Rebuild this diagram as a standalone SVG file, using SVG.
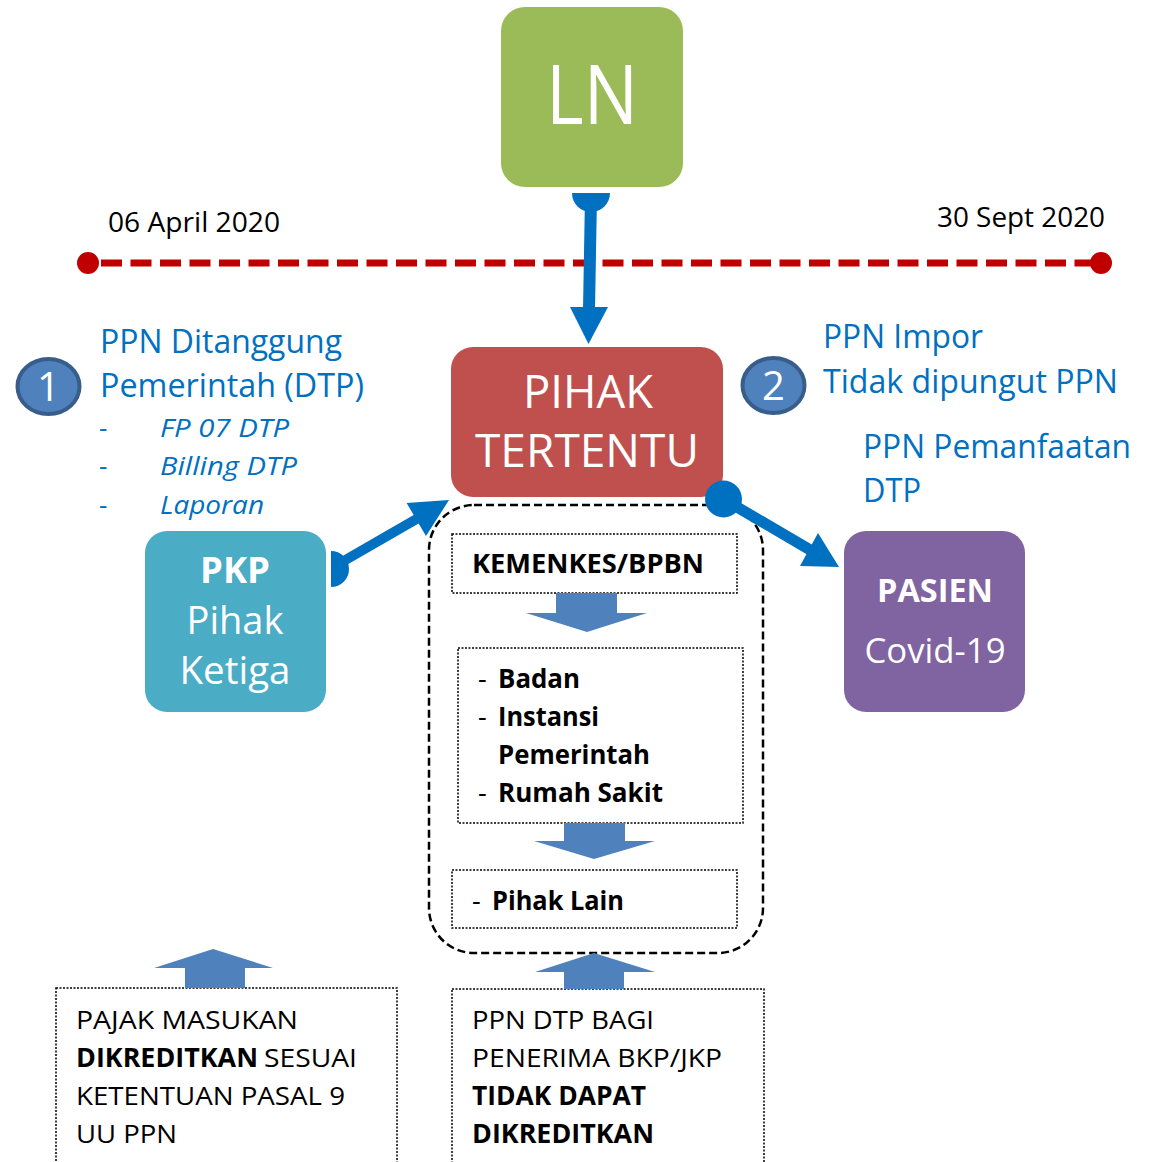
<svg xmlns="http://www.w3.org/2000/svg" width="1150" height="1162" viewBox="0 0 1150 1162">
<style>
text{font-family:"Open Sans","Noto Sans","DejaVu Sans",sans-serif}
.w{fill:#fff}
.b{fill:#0070C0}
.k{fill:#000}
.bold{font-weight:700}
.it{font-style:italic}
.dot{fill:none;stroke:#000;stroke-width:1.5;stroke-dasharray:2 1.5}
.blk{fill:#4F81BD}
.num{fill:#4F81BD;stroke:#385D8A;stroke-width:4}
.conn{stroke:#0070C0;fill:none}
</style>
<rect width="1150" height="1162" fill="#fff"/>

<g id="timeline">
<line x1="99" y1="263" x2="1092" y2="263" stroke="#C00000" stroke-width="7" stroke-dasharray="21 8.5" stroke-dashoffset="-2"/>
<circle cx="88" cy="263" r="11" fill="#C00000"/>
<circle cx="1101" cy="263" r="11" fill="#C00000"/>
<text x="108" y="232" font-size="27" class="k" textLength="172" lengthAdjust="spacingAndGlyphs">06 April 2020</text>
<text x="937" y="227" font-size="27" class="k" textLength="168" lengthAdjust="spacingAndGlyphs">30 Sept 2020</text>
</g>

<g id="ln">
<rect x="501" y="7" width="182" height="180" rx="24" fill="#9BBB59"/>
<text x="592" y="124" font-size="83" class="w" text-anchor="middle" textLength="92" lengthAdjust="spacingAndGlyphs">LN</text>
</g>

<g id="pihak-tertentu">
<rect x="451" y="347" width="272" height="150" rx="22" fill="#C0504D"/>
<text x="588" y="408" font-size="46" class="w" text-anchor="middle" textLength="130" lengthAdjust="spacingAndGlyphs">PIHAK</text>
<text x="587" y="467" font-size="46" class="w" text-anchor="middle" textLength="224" lengthAdjust="spacingAndGlyphs">TERTENTU</text>
</g>

<g id="note1">
<ellipse cx="48.5" cy="386.5" rx="31" ry="27.5" class="num"/>
<text x="48.5" y="401" font-size="40" class="w" text-anchor="middle">1</text>
<text x="100" y="353" font-size="32" class="b" textLength="242" lengthAdjust="spacingAndGlyphs">PPN Ditanggung</text>
<text x="100" y="397" font-size="32" class="b" textLength="264" lengthAdjust="spacingAndGlyphs">Pemerintah (DTP)</text>
<text x="99" y="437" font-size="26" class="b">-</text>
<text x="99" y="475" font-size="26" class="b">-</text>
<text x="99" y="514" font-size="26" class="b">-</text>
<text x="160" y="437" font-size="26" class="b it" textLength="129" lengthAdjust="spacingAndGlyphs">FP 07 DTP</text>
<text x="160" y="475" font-size="26" class="b it" textLength="137" lengthAdjust="spacingAndGlyphs">Billing DTP</text>
<text x="160" y="514" font-size="26" class="b it" textLength="104" lengthAdjust="spacingAndGlyphs">Laporan</text>
</g>

<g id="note2">
<ellipse cx="773.5" cy="385.5" rx="31" ry="27.5" class="num"/>
<text x="773.5" y="400" font-size="40" class="w" text-anchor="middle">2</text>
<text x="823" y="348" font-size="32" class="b" textLength="160" lengthAdjust="spacingAndGlyphs">PPN Impor</text>
<text x="823" y="393" font-size="32" class="b" textLength="295" lengthAdjust="spacingAndGlyphs">Tidak dipungut PPN</text>
<text x="863" y="458" font-size="32" class="b" textLength="268" lengthAdjust="spacingAndGlyphs">PPN Pemanfaatan</text>
<text x="863" y="502" font-size="32" class="b" textLength="58" lengthAdjust="spacingAndGlyphs">DTP</text>
</g>

<g id="pkp">
<rect x="145" y="531" width="181" height="181" rx="22" fill="#4BACC6"/>
<text x="235" y="583" font-size="35" class="w bold" text-anchor="middle" textLength="70" lengthAdjust="spacingAndGlyphs">PKP</text>
<text x="235" y="634" font-size="38" class="w" text-anchor="middle" textLength="97" lengthAdjust="spacingAndGlyphs">Pihak</text>
<text x="235" y="684" font-size="38" class="w" text-anchor="middle" textLength="111" lengthAdjust="spacingAndGlyphs">Ketiga</text>
</g>

<g id="pasien">
<rect x="844" y="531" width="181" height="181" rx="22" fill="#8064A2"/>
<text x="935" y="602" font-size="33" class="w bold" text-anchor="middle" textLength="116" lengthAdjust="spacingAndGlyphs">PASIEN</text>
<text x="935" y="663" font-size="35" class="w" text-anchor="middle" textLength="141" lengthAdjust="spacingAndGlyphs">Covid-19</text>
</g>

<g id="group-box">
<rect x="429" y="505" width="334" height="448" rx="45" fill="none" stroke="#000" stroke-width="2.5" stroke-dasharray="8 4"/>
</g>

<g id="kemenkes">
<rect x="452" y="534" width="285" height="59" class="dot"/>
<text x="472" y="573" font-size="26" class="k bold" textLength="232" lengthAdjust="spacingAndGlyphs">KEMENKES/BPBN</text>
</g>

<g id="badan">
<rect x="458" y="648" width="285" height="175" class="dot"/>
<text x="478" y="688" font-size="27" class="k">-</text>
<text x="478" y="726" font-size="27" class="k">-</text>
<text x="478" y="802" font-size="27" class="k">-</text>
<text x="498" y="688" font-size="27" class="k bold" textLength="82" lengthAdjust="spacingAndGlyphs">Badan</text>
<text x="498" y="726" font-size="27" class="k bold" textLength="101" lengthAdjust="spacingAndGlyphs">Instansi</text>
<text x="498" y="764" font-size="27" class="k bold" textLength="152" lengthAdjust="spacingAndGlyphs">Pemerintah</text>
<text x="498" y="802" font-size="27" class="k bold" textLength="165" lengthAdjust="spacingAndGlyphs">Rumah Sakit</text>
</g>

<g id="pihak-lain">
<rect x="452" y="870" width="285" height="58" class="dot"/>
<text x="472" y="910" font-size="27" class="k">-</text>
<text x="492" y="910" font-size="27" class="k bold" textLength="132" lengthAdjust="spacingAndGlyphs">Pihak Lain</text>
</g>

<g id="note-left">
<rect x="56" y="988" width="341" height="190" class="dot"/>
<text x="76" y="1029" font-size="26" class="k" textLength="222" lengthAdjust="spacingAndGlyphs">PAJAK MASUKAN</text>
<text x="76" y="1067" font-size="26" class="k bold" textLength="182" lengthAdjust="spacingAndGlyphs">DIKREDITKAN</text>
<text x="264" y="1067" font-size="26" class="k" textLength="93" lengthAdjust="spacingAndGlyphs">SESUAI</text>
<text x="76" y="1105" font-size="26" class="k" textLength="269" lengthAdjust="spacingAndGlyphs">KETENTUAN PASAL 9</text>
<text x="76" y="1143" font-size="26" class="k" textLength="101" lengthAdjust="spacingAndGlyphs">UU PPN</text>
</g>

<g id="note-right">
<rect x="452" y="989" width="312" height="190" class="dot"/>
<text x="472" y="1029" font-size="26" class="k" textLength="182" lengthAdjust="spacingAndGlyphs">PPN DTP BAGI</text>
<text x="472" y="1067" font-size="26" class="k" textLength="250" lengthAdjust="spacingAndGlyphs">PENERIMA BKP/JKP</text>
<text x="472" y="1105" font-size="26" class="k bold" textLength="174" lengthAdjust="spacingAndGlyphs">TIDAK DAPAT</text>
<text x="472" y="1143" font-size="26" class="k bold" textLength="182" lengthAdjust="spacingAndGlyphs">DIKREDITKAN</text>
</g>

<g id="connectors">
<!-- LN to Pihak Tertentu -->
<path d="M572,193 A19,19 0 0 0 610,193 Z" fill="#0070C0"/>
<line x1="591" y1="196" x2="589" y2="310" class="conn" stroke-width="12"/>
<polygon points="570,307 608,307 588.5,344" fill="#0070C0"/>
<!-- PKP to Pihak Tertentu -->
<path d="M331,551 A18,18 0 0 1 331,587 Z" fill="#0070C0"/>
<line x1="335" y1="566" x2="420" y2="517" class="conn" stroke-width="10"/>
<polygon points="449,500 426,536 406.6,503" fill="#0070C0"/>
<!-- Pihak Tertentu to Pasien -->
<circle cx="723.5" cy="499" r="18.5" fill="#0070C0"/>
<line x1="725" y1="500" x2="812" y2="551" class="conn" stroke-width="11"/>
<polygon points="839,567 800,566 818,533" fill="#0070C0"/>
<!-- block arrows -->
<polygon class="blk" points="556,593 617,593 617,613 647,613 587,632 526,613 556,613"/>
<polygon class="blk" points="564,823 625,823 625,841 655,841 594,859 534,841 564,841"/>
<polygon class="blk" points="185,988 245,988 245,968 273,968 213,949 154,968 185,968"/>
<polygon class="blk" points="564,989 624,989 624,972 655,972 594,953 535,972 564,972"/>
</g>
</svg>
